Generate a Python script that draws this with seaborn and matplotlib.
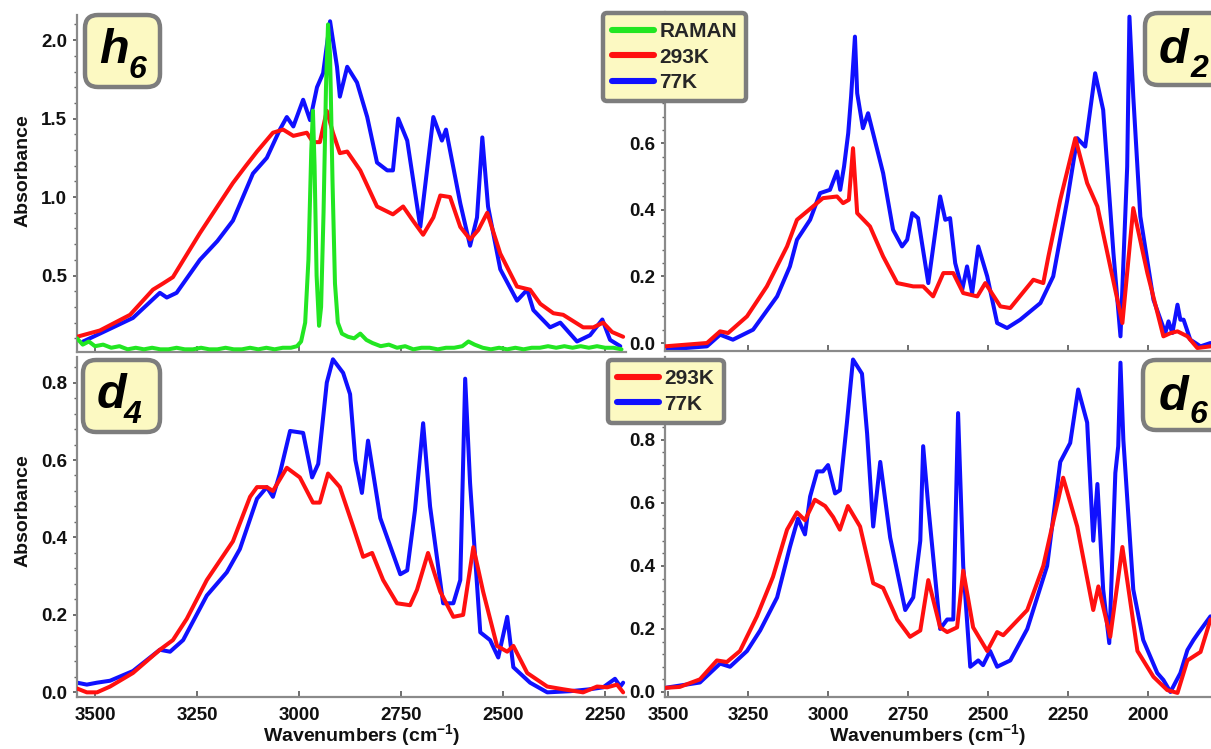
import matplotlib
matplotlib.use("Agg")
import matplotlib.pyplot as plt
import seaborn as sns
from matplotlib.patches import FancyBboxPatch
from matplotlib.lines import Line2D
from matplotlib.ticker import MultipleLocator, AutoMinorLocator

# ---------------- data (wavenumber cm-1, absorbance) ----------------
h6_293_wn = [3544, 3488, 3414, 3358, 3333, 3309, 3243, 3200, 3162, 3130, 3103, 3064, 3039, 3014, 2981, 2966, 2949,
             2932, 2917, 2900, 2882, 2850, 2809, 2770, 2745, 2721, 2696, 2671, 2654, 2630, 2605, 2581,
             2561, 2539, 2507, 2466, 2434, 2409, 2377, 2353, 2304, 2279, 2255, 2233, 2206]
h6_293_ab = [0.11, 0.15, 0.25, 0.41, 0.45, 0.49, 0.77, 0.94, 1.09, 1.20, 1.29, 1.41, 1.43, 1.39, 1.41, 1.35, 1.35,
             1.55, 1.41, 1.28, 1.29, 1.17, 0.94, 0.89, 0.94, 0.85, 0.76, 0.87, 1.01, 1.00, 0.81, 0.73,
             0.79, 0.90, 0.64, 0.43, 0.41, 0.32, 0.26, 0.25, 0.17, 0.17, 0.20, 0.14, 0.11]

h6_77_wn = [3529, 3488, 3407, 3341, 3324, 3300, 3243, 3200, 3162, 3113, 3079, 3047, 3030, 3014, 2990, 2973,
            2956, 2941, 2924, 2907, 2900, 2882, 2858, 2833, 2809, 2784, 2770, 2757, 2735, 2703, 2671,
            2650, 2640, 2605, 2581, 2564, 2551, 2537, 2507, 2466, 2441, 2426, 2385, 2360, 2319, 2287,
            2257, 2238, 2213]
h6_77_ab = [0.08, 0.13, 0.23, 0.39, 0.36, 0.39, 0.60, 0.72, 0.85, 1.15, 1.25, 1.43, 1.51, 1.45, 1.62, 1.49,
            1.70, 1.79, 2.12, 1.83, 1.64, 1.83, 1.73, 1.51, 1.22, 1.17, 1.17, 1.50, 1.36, 0.81, 1.51,
            1.36, 1.43, 0.96, 0.69, 0.87, 1.38, 0.94, 0.54, 0.34, 0.41, 0.28, 0.17, 0.20, 0.08, 0.12,
            0.22, 0.09, 0.05]

raman_wn = [3544, 3530, 3515, 3500, 3480, 3460, 3440, 3420, 3400, 3380, 3360, 3340, 3320, 3300, 3280,
            3260, 3240, 3220, 3200, 3180, 3160, 3140, 3120, 3100, 3080, 3060, 3040, 3020, 3005, 2995,
            2985, 2977, 2970, 2966, 2962, 2957, 2951, 2946, 2940, 2934, 2929, 2924, 2918, 2912, 2905,
            2895, 2880, 2865, 2850, 2835, 2820, 2800, 2780, 2760, 2740, 2720, 2700, 2680, 2660, 2640,
            2620, 2600, 2585, 2570, 2550, 2530, 2510, 2490, 2470, 2450, 2430, 2410, 2390, 2370, 2350,
            2330, 2310, 2290, 2270, 2250, 2230, 2210]
raman_ab = [0.10, 0.06, 0.08, 0.05, 0.06, 0.04, 0.05, 0.03, 0.04, 0.03, 0.04, 0.03, 0.03, 0.04, 0.03,
            0.03, 0.04, 0.03, 0.03, 0.04, 0.03, 0.03, 0.04, 0.03, 0.04, 0.03, 0.04, 0.04, 0.05, 0.08,
            0.20, 0.60, 1.30, 1.55, 1.20, 0.50, 0.18, 0.30, 0.90, 1.70, 2.10, 1.90, 1.10, 0.45, 0.20,
            0.13, 0.11, 0.10, 0.13, 0.09, 0.07, 0.05, 0.06, 0.04, 0.05, 0.03, 0.04, 0.04, 0.03, 0.04,
            0.04, 0.05, 0.08, 0.06, 0.04, 0.03, 0.04, 0.03, 0.04, 0.03, 0.04, 0.04, 0.05, 0.04, 0.05,
            0.04, 0.05, 0.04, 0.05, 0.04, 0.04, 0.03]

d2_293_wn = [3509, 3378, 3337, 3312, 3253, 3191, 3128, 3097, 3047, 3016, 2972, 2953, 2935, 2922, 2909,
             2869, 2828, 2784, 2734, 2703, 2672, 2640, 2609, 2578, 2534, 2509, 2462, 2431, 2359, 2328,
             2312, 2275, 2228, 2191, 2159, 2119, 2081, 2047, 2003, 1953, 1930, 1909, 1878, 1847, 1806]
d2_293_ab = [-0.01, 0.0, 0.035, 0.03, 0.08, 0.17, 0.29, 0.37, 0.41, 0.435, 0.44, 0.42, 0.43, 0.585, 0.39,
             0.35, 0.26, 0.18, 0.17, 0.17, 0.14, 0.21, 0.21, 0.15, 0.14, 0.18, 0.11, 0.105, 0.19, 0.18,
             0.26, 0.43, 0.615, 0.48, 0.41, 0.23, 0.06, 0.405, 0.21, 0.02, 0.03, 0.035, 0.02, -0.015, -0.01]

d2_77_wn = [3509, 3378, 3337, 3297, 3234, 3159, 3119, 3097, 3056, 3025, 2994, 2972, 2962, 2950, 2937,
            2928, 2916, 2909, 2891, 2875, 2828, 2797, 2769, 2753, 2737, 2719, 2687, 2650, 2634, 2619,
            2603, 2581, 2566, 2550, 2531, 2503, 2472, 2441, 2400, 2337, 2297, 2253, 2222, 2197, 2166,
            2141, 2109, 2087, 2066, 2059, 2047, 2025, 1984, 1947, 1937, 1925, 1909, 1900, 1890, 1869,
            1837, 1806]
d2_77_ab = [-0.02, -0.01, 0.025, 0.01, 0.04, 0.14, 0.23, 0.31, 0.37, 0.45, 0.46, 0.515, 0.46, 0.53, 0.63,
            0.74, 0.92, 0.75, 0.645, 0.69, 0.51, 0.34, 0.29, 0.31, 0.39, 0.375, 0.18, 0.44, 0.37, 0.375,
            0.24, 0.16, 0.23, 0.15, 0.29, 0.20, 0.06, 0.045, 0.07, 0.12, 0.20, 0.43, 0.615, 0.59, 0.81,
            0.70, 0.27, 0.02, 0.53, 0.98, 0.74, 0.38, 0.13, 0.03, 0.065, 0.03, 0.115, 0.07, 0.07, 0.01,
            -0.01, 0.0]

d4_293_wn = [3544, 3520, 3495, 3463, 3407, 3341, 3309, 3275, 3226, 3162, 3120, 3103, 3079, 3064, 3030,
             2998, 2966, 2949, 2929, 2900, 2868, 2843, 2821, 2794, 2760, 2728, 2711, 2684, 2654, 2622,
             2598, 2573, 2549, 2515, 2490, 2475, 2441, 2392, 2353, 2304, 2270, 2245, 2221, 2206]
d4_293_ab = [0.01, 0.0, 0.0, 0.015, 0.05, 0.11, 0.135, 0.19, 0.29, 0.39, 0.505, 0.53, 0.53, 0.52, 0.58,
             0.555, 0.49, 0.49, 0.565, 0.53, 0.43, 0.35, 0.36, 0.29, 0.23, 0.225, 0.265, 0.36, 0.26, 0.195,
             0.20, 0.375, 0.26, 0.12, 0.105, 0.12, 0.05, 0.015, 0.008, 0.0, 0.015, 0.013, 0.02, 0.0]

d4_77_wn = [3544, 3520, 3495, 3463, 3407, 3341, 3316, 3284, 3226, 3177, 3145, 3103, 3079, 3064, 3047,
            3022, 2990, 2968, 2953, 2932, 2917, 2892, 2875, 2862, 2846, 2831, 2801, 2752, 2735, 2716,
            2696, 2679, 2647, 2622, 2605, 2593, 2581, 2556, 2532, 2512, 2490, 2475, 2434, 2392, 2336,
            2287, 2255, 2226, 2213, 2206]
d4_77_ab = [0.025, 0.02, 0.025, 0.03, 0.055, 0.11, 0.105, 0.135, 0.25, 0.31, 0.37, 0.50, 0.53, 0.505, 0.565,
            0.675, 0.67, 0.555, 0.59, 0.80, 0.86, 0.825, 0.77, 0.60, 0.515, 0.65, 0.45, 0.305, 0.315, 0.47,
            0.695, 0.48, 0.23, 0.23, 0.29, 0.81, 0.54, 0.155, 0.135, 0.09, 0.195, 0.065, 0.025, 0.0, 0.003,
            0.008, 0.013, 0.035, 0.015, 0.025]

d6_293_wn = [3509, 3463, 3400, 3347, 3316, 3275, 3222, 3172, 3128, 3097, 3072, 3041, 3009, 2984, 2963,
             2938, 2900, 2859, 2828, 2784, 2744, 2712, 2687, 2650, 2628, 2597, 2578, 2547, 2503, 2472,
             2453, 2378, 2328, 2266, 2222, 2172, 2156, 2119, 2081, 2034, 1984, 1941, 1909, 1878, 1837,
             1806]
d6_293_ab = [0.013, 0.016, 0.04, 0.10, 0.095, 0.13, 0.24, 0.365, 0.515, 0.57, 0.545, 0.61, 0.59, 0.555, 0.515,
             0.59, 0.525, 0.345, 0.33, 0.23, 0.175, 0.195, 0.355, 0.205, 0.19, 0.205, 0.385, 0.205, 0.13, 0.19,
             0.18, 0.26, 0.40, 0.68, 0.525, 0.26, 0.335, 0.175, 0.46, 0.13, 0.048, 0.006, -0.003, 0.10, 0.127,
             0.23]

d6_77_wn = [3509, 3400, 3337, 3306, 3253, 3212, 3159, 3119, 3094, 3072, 3056, 3034, 3016, 3000, 2978,
            2963, 2941, 2922, 2894, 2878, 2859, 2837, 2806, 2759, 2734, 2712, 2703, 2687, 2650, 2628,
            2609, 2594, 2578, 2556, 2531, 2516, 2494, 2472, 2431, 2378, 2316, 2275, 2244, 2219, 2191,
            2172, 2159, 2141, 2122, 2103, 2094, 2087, 2078, 2047, 2016, 1972, 1953, 1931, 1900, 1878,
            1859, 1844, 1806]
d6_77_ab = [0.013, 0.03, 0.09, 0.08, 0.13, 0.195, 0.30, 0.46, 0.55, 0.50, 0.62, 0.70, 0.70, 0.72, 0.63,
            0.64, 0.855, 1.055, 1.01, 0.82, 0.525, 0.73, 0.49, 0.26, 0.30, 0.48, 0.78, 0.59, 0.20, 0.23,
            0.23, 0.885, 0.40, 0.08, 0.10, 0.085, 0.13, 0.08, 0.10, 0.20, 0.40, 0.73, 0.79, 0.96, 0.855,
            0.48, 0.66, 0.325, 0.155, 0.695, 0.78, 1.045, 0.80, 0.325, 0.165, 0.06, 0.038, 0.0, 0.06, 0.133,
            0.165, 0.187, 0.24]

legend_top = ["RAMAN", "293K", "77K"]
legend_bottom = ["293K", "77K"]

RED = "#ff1010"
BLUE = "#1010ff"
GREEN = "#22e622"
BOXFACE = "#fcf9c2"
BOXEDGE = "#7d7d7d"

# ---------------- figure ----------------
sns.set_theme(style="white")
plt.rcParams["font.family"] = ["Liberation Sans", "DejaVu Sans"]
plt.rcParams["mathtext.fontset"] = "custom"
plt.rcParams["mathtext.rm"] = "Liberation Sans"
plt.rcParams["mathtext.bf"] = "Liberation Sans:bold"
plt.rcParams["mathtext.default"] = "bf"

W, H = 1211, 749
fig = plt.figure(figsize=(W / 100, H / 100), dpi=100)
fig.patch.set_facecolor("white")


def axes_px(x0, y0, x1, y1):
    return fig.add_axes([x0 / W, 1 - y1 / H, (x1 - x0) / W, (y1 - y0) / H])


ax1 = axes_px(77, 15, 626, 352)
ax2 = axes_px(665, 12, 1214, 351)
ax3 = axes_px(77, 357, 626, 697)
ax4 = axes_px(665, 357, 1214, 697)

LW = 2.9


def draw(ax, wn, ab, color, z):
    sns.lineplot(x=wn, y=ab, ax=ax, color=color, linewidth=LW, estimator=None,
                 sort=False, legend=False, zorder=z, solid_joinstyle="round",
                 solid_capstyle="round")


draw(ax1, h6_77_wn, h6_77_ab, BLUE, 2)
draw(ax1, h6_293_wn, h6_293_ab, RED, 3)
draw(ax1, raman_wn, raman_ab, GREEN, 4)
draw(ax2, d2_77_wn, d2_77_ab, BLUE, 2)
draw(ax2, d2_293_wn, d2_293_ab, RED, 3)
draw(ax3, d4_77_wn, d4_77_ab, BLUE, 2)
draw(ax3, d4_293_wn, d4_293_ab, RED, 3)
draw(ax4, d6_77_wn, d6_77_ab, BLUE, 2)
draw(ax4, d6_293_wn, d6_293_ab, RED, 3)

ax1.set_xlim(3544, 2199)
ax3.set_xlim(3544, 2199)
ax2.set_xlim(3509, 1795)
ax4.set_xlim(3509, 1795)
ax1.set_ylim(0.013, 2.16)
ax2.set_ylim(-0.024, 0.994)
ax3.set_ylim(-0.012, 0.866)
ax4.set_ylim(-0.016, 1.063)

for ax, step in [(ax1, 0.5), (ax2, 0.2), (ax3, 0.2), (ax4, 0.2)]:
    ax.set_facecolor("none")
    for s in ["top", "right"]:
        ax.spines[s].set_visible(False)
    for s in ["left", "bottom"]:
        ax.spines[s].set_color("#8a8a8a")
        ax.spines[s].set_linewidth(1.6)
    ax.xaxis.set_major_locator(MultipleLocator(250))
    ax.yaxis.set_major_locator(MultipleLocator(step))
    ax.yaxis.set_minor_locator(AutoMinorLocator(5))
    ax.yaxis.set_major_formatter(matplotlib.ticker.FormatStrFormatter("%.1f"))
    ax.tick_params(axis="x", which="major", direction="in", length=4, width=1.2,
                   color="#555555", pad=7, labelsize=13.5)
    ax.tick_params(axis="y", which="major", direction="out", length=3, width=1.2,
                   color="#555555", pad=4, labelsize=13.5, left=True)
    ax.tick_params(axis="y", which="minor", direction="out", length=2, width=1.0,
                   color="#666666", left=True)
    ax.tick_params(axis="x", bottom=True)
    for lab in ax.get_xticklabels() + ax.get_yticklabels():
        lab.set_fontweight("bold")
        lab.set_color("#111111")
    ax.set_xlabel("")
    ax.set_ylabel("")
    ax.grid(False)

ax1.tick_params(labelbottom=False)
ax2.tick_params(labelbottom=False)

for ax in (ax1, ax3):
    ax.set_ylabel("Absorbance", fontsize=14, fontweight="bold", color="#111111")
ax1.yaxis.set_label_coords(-0.083, 0.537)
ax3.yaxis.set_label_coords(-0.083, 0.547)

for ax, xc in ((ax3, 0.519), (ax4, 0.478)):
    ax.set_xlabel(r"Wavenumbers (cm$^{-1}$)", fontsize=14, fontweight="bold", color="#111111")
    ax.xaxis.set_label_coords(xc, -0.074)

# ---------------- tag boxes ----------------
T = fig.dpi_scale_trans


def tag(x0, y0, x1, y1, letter, sub, lx, lbase, sx, sbase):
    box = FancyBboxPatch((x0 / 100, (H - y1) / 100), (x1 - x0) / 100, (y1 - y0) / 100,
                         boxstyle="round,pad=0,rounding_size=0.13", transform=T,
                         facecolor=BOXFACE, edgecolor=BOXEDGE, linewidth=3.2, zorder=10)
    fig.add_artist(box)
    fig.text(lx / 100, (H - lbase) / 100, letter, transform=T, fontsize=35,
             fontweight="bold", fontstyle="italic", ha="left", va="baseline",
             color="black", zorder=11)
    fig.text(sx / 100, (H - sbase) / 100, sub, transform=T, fontsize=23,
             fontweight="bold", fontstyle="italic", ha="left", va="baseline",
             color="black", zorder=11)


tag(85, 15, 160, 87, "h", "6", 99, 63, 129, 78)
tag(1145, 13, 1224, 85, "d", "2", 1159, 63, 1190, 77)
tag(83, 360, 160, 432, "d", "4", 97, 408, 124, 423)
tag(1143, 360, 1224, 430, "d", "6", 1159, 410, 1190, 423)

# ---------------- legends ----------------
def legend_at(x0, y0, labels, colors):
    handles = [Line2D([], [], color=c, linewidth=4.4) for c in colors]
    leg = fig.legend(handles, labels, loc="upper left",
                     bbox_to_anchor=(x0 / W, 1 - y0 / H), bbox_transform=fig.transFigure,
                     frameon=True, fancybox=True, borderaxespad=0.0,
                     prop={"weight": "bold", "size": 15},
                     handlelength=2.0, handletextpad=0.25, labelspacing=0.3,
                     borderpad=0.45, facecolor=BOXFACE, edgecolor=BOXEDGE, framealpha=1.0)
    leg.get_frame().set_linewidth(3.2)
    leg.set_zorder(12)
    return leg


legend_at(603, 13, legend_top, [GREEN, RED, BLUE])
legend_at(608, 360, legend_bottom, [RED, BLUE])

fig.savefig("out.png", dpi=100, facecolor="white")
